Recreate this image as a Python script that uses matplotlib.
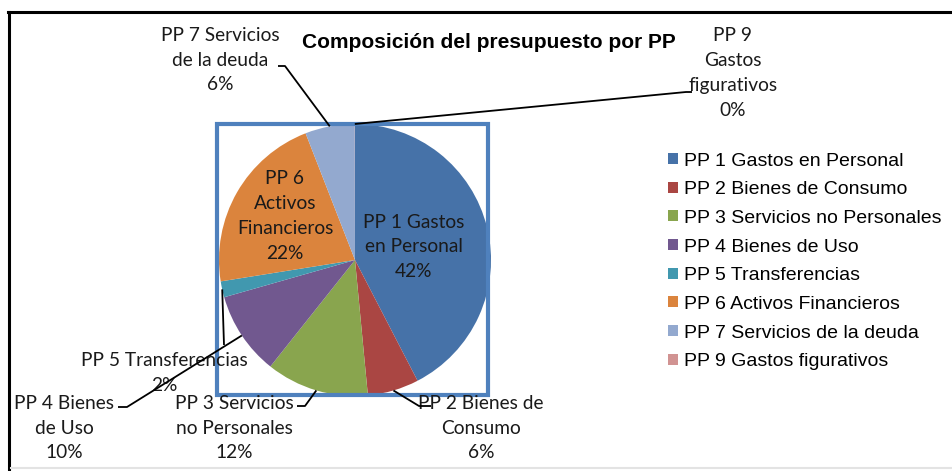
import matplotlib
matplotlib.use("Agg")
import matplotlib.pyplot as plt
from matplotlib.patches import Rectangle
from matplotlib.lines import Line2D
import numpy as np

title = "Composición del presupuesto por PP"
categories = ["PP 1 Gastos en Personal", "PP 2 Bienes de Consumo",
              "PP 3 Servicios no Personales", "PP 4 Bienes de Uso",
              "PP 5 Transferencias", "PP 6 Activos Financieros",
              "PP 7 Servicios de la deuda", "PP 9 Gastos figurativos"]
label_texts = ["PP 1 Gastos\nen Personal", "PP 2 Bienes de\nConsumo",
               "PP 3 Servicios\nno Personales", "PP 4 Bienes\nde Uso",
               "PP 5 Transferencias", "PP 6\nActivos\nFinancieros",
               "PP 7 Servicios\nde la deuda", "PP 9\nGastos\nfigurativos"]
values = [42.4, 6.1, 12.2, 9.9, 1.9, 21.6, 5.9, 0.02]
colors = ["#4672A8", "#AA4643", "#89A54E", "#71588F", "#4198AF",
          "#DB843D", "#93A9CF", "#D19392"]

W, H = 953, 471
fig = plt.figure(figsize=(W / 100, H / 100), dpi=100)
ax = fig.add_axes([0, 0, 1, 1])

def Y(y):  # convert from top-based pixel to data coordinate
    return H - y

cx, cy, R = 355, Y(260), 136
wedges, _ = ax.pie(values, colors=colors, startangle=90, counterclock=False,
                   center=(cx, cy), radius=R, frame=True,
                   wedgeprops=dict(linewidth=0))
ax.set_xlim(0, W)
ax.set_ylim(0, H)
ax.set_aspect("equal")
ax.axis("off")

# plot-area square
ax.add_patch(Rectangle((217, Y(395)), 271, 271, fill=False,
                       edgecolor="#4F81BD", linewidth=3.0, zorder=5))

total = sum(values)
pct = [f"{round(v / total * 100):.0f}%" for v in values]

lab_font = dict(family=["Lato", "DejaVu Sans"], fontsize=13.8, color="#1a1a1a",
                linespacing=1.55, ha="center", va="center")

# label centers (top-based pixels) and leader-line end points
label_pos = {0: (414, 247), 1: (481, 428), 2: (234, 428), 3: (64, 428),
             4: (164, 373), 5: (285, 216), 6: (220, 60), 7: (733, 73)}
leader_end = {1: [(419, 406), (431, 406)], 2: [(305, 406), (297, 406)],
              3: [(127, 407), (118, 407)], 4: [(224, 345)],
              6: [(285, 66), (278, 66)], 7: [(686, 92), (692, 92)]}

for i, w in enumerate(wedges):
    txt = label_texts[i] + "\n" + pct[i]
    x, y = label_pos[i]
    ax.text(x, Y(y), txt, zorder=6, **lab_font)
    if i in leader_end:
        if i == 7:
            ang = np.deg2rad(w.theta2)
        else:
            ang = np.deg2rad((w.theta1 + w.theta2) / 2)
        sx, sy = cx + R * np.cos(ang), cy + R * np.sin(ang)
        pts = [(sx, sy)] + [(px, Y(py)) for px, py in leader_end[i]]
        ax.plot([p[0] for p in pts], [p[1] for p in pts], color="black",
                lw=1.3, zorder=7, solid_capstyle="butt")

ax.text(489, Y(42), title, ha="center", va="center", fontsize=15,
        fontweight="bold", family=["Liberation Sans", "DejaVu Sans"], zorder=6)

leg = ax.legend(wedges, categories, loc="upper left",
                bbox_to_anchor=(668 / W, 1 - 152.5 / H), frameon=False,
                prop=dict(family=["Liberation Sans", "DejaVu Sans"], size=14),
                handlelength=0.5, handleheight=0.5, handletextpad=0.3,
                labelspacing=0.6, borderpad=0, borderaxespad=0)

# outer chart frame
fig.add_artist(Line2D([9.5 / W, 9.5 / W], [0.5 / H, 1 - 12 / H],
                      transform=fig.transFigure, color="black", lw=2.2))
fig.add_artist(Line2D([8.5 / W, 1], [1 - 12 / H, 1 - 12 / H],
                      transform=fig.transFigure, color="black", lw=2.2))
fig.add_artist(Line2D([11 / W, 1], [3 / H, 3 / H],
                      transform=fig.transFigure, color="#e3e3e3", lw=1.5))

fig.savefig("out.png", dpi=100)
